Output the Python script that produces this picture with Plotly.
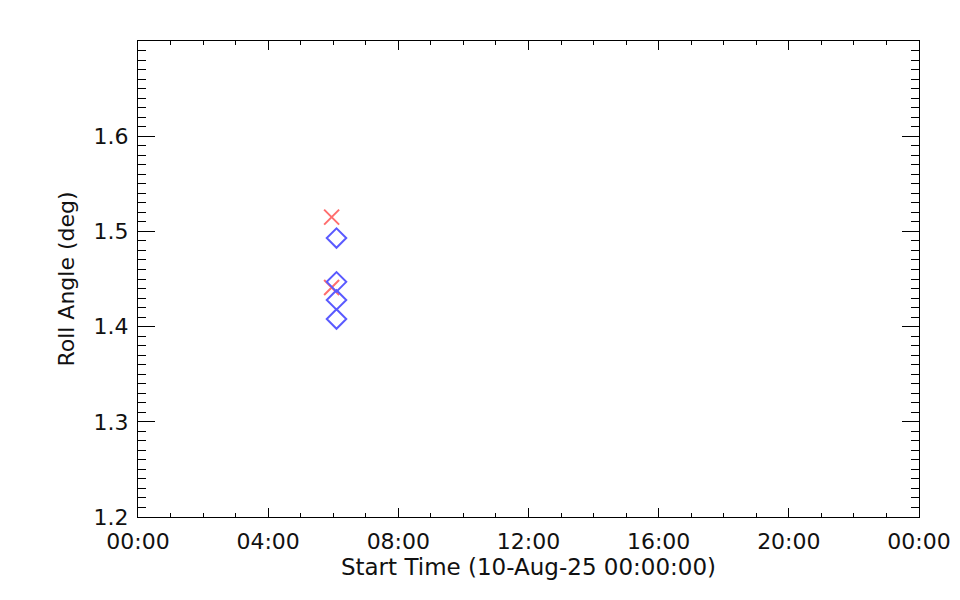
import plotly.graph_objects as go

# Data
x_times = ["2025-08-10 05:57", "2025-08-10 05:57"]
x_roll = [1.515, 1.441]
d_times = ["2025-08-10 06:06", "2025-08-10 06:06", "2025-08-10 06:06", "2025-08-10 06:06"]
d_roll = [1.493, 1.447, 1.428, 1.408]

y_tickvals = [1.2, 1.3, 1.4, 1.5, 1.6]
y_ticktext = ["1.2", "1.3", "1.4", "1.5", "1.6"]

font_family = "DejaVu Sans, sans-serif"

fig = go.Figure()
fig.add_trace(go.Scatter(
    x=x_times, y=x_roll, mode="markers",
    marker=dict(symbol="x-thin", size=15, line=dict(color="#ff6e6e", width=2)),
    showlegend=False))
fig.add_trace(go.Scatter(
    x=d_times, y=d_roll, mode="markers",
    marker=dict(symbol="diamond-open", size=15, color="#5a5aff", line=dict(color="#5a5aff", width=2)),
    showlegend=False))

fig.update_layout(
    width=952, height=592,
    margin=dict(l=130, r=41, t=33, b=83),
    paper_bgcolor="white", plot_bgcolor="white",
    font=dict(family=font_family, size=21, color="#111"),
)
fig.update_xaxes(
    type="date",
    range=["2025-08-10 00:00", "2025-08-11 00:00"],
    dtick=4 * 3600000, tickformat="%H:%M",
    ticks="inside", ticklen=9, tickcolor="black", tickwidth=1,
    minor=dict(dtick=3600000, ticks="inside", ticklen=4, tickcolor="black"),
    showline=True, linecolor="black", linewidth=1, mirror="ticks",
    showgrid=False, zeroline=False,
    automargin=False,
    ticklabelstandoff=5,
    tickfont=dict(size=22),
    title=dict(text="Start Time (10-Aug-25 00:00:00)", standoff=2, font=dict(size=23)),
)
fig.update_yaxes(
    range=[1.2, 1.7],
    tickvals=y_tickvals,
    ticktext=y_ticktext,
    ticks="inside", ticklen=17, tickcolor="black", tickwidth=1,
    minor=dict(dtick=0.01, ticks="inside", ticklen=8, tickcolor="black"),
    showline=True, linecolor="black", linewidth=1, mirror="ticks",
    showgrid=False, zeroline=False,
    automargin=False,
    ticklabelstandoff=4,
    tickfont=dict(size=22),
    title=dict(text="Roll Angle (deg)", standoff=12, font=dict(size=22)),
)

fig.write_html("out.html")
